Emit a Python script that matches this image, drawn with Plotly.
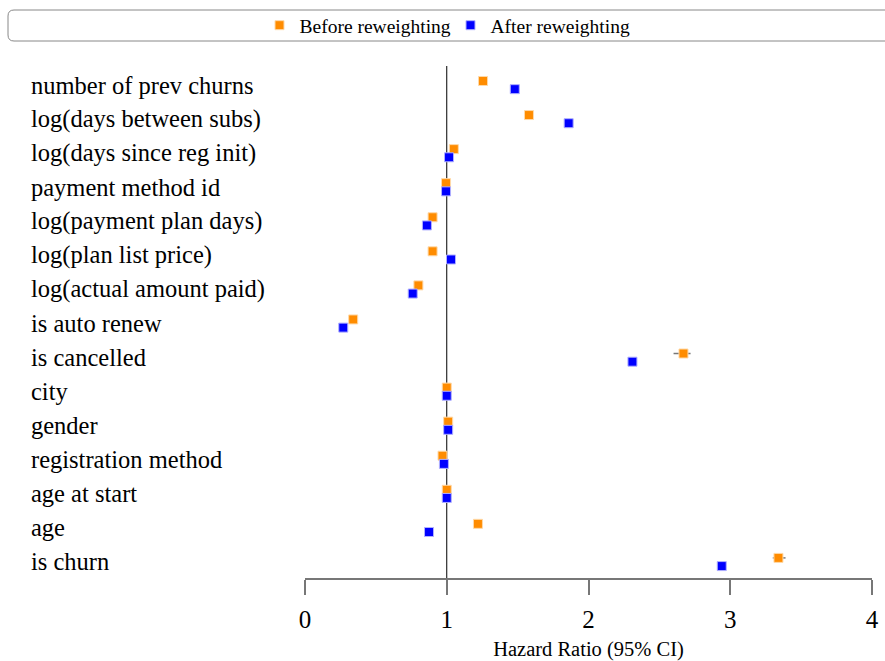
import plotly.graph_objects as go

variables = ["number of prev churns", "log(days between subs)", "log(days since reg init)",
             "payment method id", "log(payment plan days)", "log(plan list price)",
             "log(actual amount paid)", "is auto renew", "is cancelled", "city", "gender",
             "registration method", "age at start", "age", "is churn"]

hr_before = [1.256, 1.58, 1.05, 0.995, 0.90, 0.90, 0.80, 0.34, 2.67, 1.00, 1.01, 0.97, 1.00, 1.22, 3.34]
ci_before_lo = [1.25, 1.575, 1.045, 0.99, 0.895, 0.895, 0.795, 0.335, 2.60, 0.995, 1.005, 0.965, 0.995, 1.215, 3.30]
ci_before_hi = [1.262, 1.585, 1.055, 1.0, 0.905, 0.905, 0.805, 0.345, 2.72, 1.005, 1.015, 0.975, 1.005, 1.225, 3.39]

hr_after = [1.48, 1.86, 1.016, 0.995, 0.86, 1.03, 0.76, 0.27, 2.31, 1.00, 1.01, 0.98, 1.00, 0.875, 2.94]
ci_after_lo = [1.475, 1.855, 1.011, 0.99, 0.855, 1.025, 0.755, 0.265, 2.28, 0.995, 1.005, 0.975, 0.995, 0.87, 2.92]
ci_after_hi = [1.485, 1.865, 1.021, 1.0, 0.865, 1.035, 0.765, 0.275, 2.34, 1.005, 1.015, 0.985, 1.005, 0.88, 2.96]

x_ticks = [0, 1, 2, 3, 4]

FONT = "Liberation Serif"
idx = list(range(len(variables)))

fig = go.Figure()
fig.add_trace(go.Scatter(
    x=hr_before, y=[i - 0.12 for i in idx], mode="markers", name="Before reweighting",
    marker=dict(symbol="square", size=9, color="#FF8C00", line=dict(color="#FFD9A8", width=1)),
    error_x=dict(type="data", symmetric=False,
                 array=[h - v for v, h in zip(hr_before, ci_before_hi)],
                 arrayminus=[v - l for v, l in zip(hr_before, ci_before_lo)],
                 color="#777777", thickness=1.5, width=0),
))
fig.add_trace(go.Scatter(
    x=hr_after, y=[i + 0.12 for i in idx], mode="markers", name="After reweighting",
    marker=dict(symbol="square", size=9, color="#0000FF", line=dict(color="#B0B0FF", width=1)),
    error_x=dict(type="data", symmetric=False,
                 array=[h - v for v, h in zip(hr_after, ci_after_hi)],
                 arrayminus=[v - l for v, l in zip(hr_after, ci_after_lo)],
                 color="#555555", thickness=1.5, width=0),
))

# reference line at HR = 1
fig.add_shape(type="line", xref="x", yref="paper", x0=1, x1=1, y0=0, y1=1,
              line=dict(color="black", width=1), layer="below")

# variable labels
for i, v in enumerate(variables):
    fig.add_annotation(text=v, xref="paper", yref="y", x=-0.4868, y=i, xanchor="left",
                       yanchor="middle", showarrow=False,
                       font=dict(family=FONT, size=24.5, color="black"))

# rounded legend box
W, H = 567.0, 512.0
def px(xp):
    return (xp - 305) / W
def py(yp):
    return 1 + (66 - yp) / H
L, R, T, B, r = 8, 900, 10, 41, 6
path = (f"M {px(L + r)},{py(T)} L {px(R - r)},{py(T)} Q {px(R)},{py(T)} {px(R)},{py(T + r)} "
        f"L {px(R)},{py(B - r)} Q {px(R)},{py(B)} {px(R - r)},{py(B)} "
        f"L {px(L + r)},{py(B)} Q {px(L)},{py(B)} {px(L)},{py(B - r)} "
        f"L {px(L)},{py(T + r)} Q {px(L)},{py(T)} {px(L + r)},{py(T)} Z")
fig.add_shape(type="path", xref="paper", yref="paper", path=path,
              line=dict(color="#888888", width=1), fillcolor="rgba(0,0,0,0)")

fig.update_layout(
    width=885, height=661,
    margin=dict(l=305, r=13, t=66, b=83, autoexpand=False),
    paper_bgcolor="white", plot_bgcolor="white",
    font=dict(family=FONT, color="black"),
    showlegend=True,
    legend=dict(orientation="h", x=px(450.5), y=py(25.5), xanchor="center", yanchor="middle",
                font=dict(family=FONT, size=19.5), bgcolor="rgba(0,0,0,0)", borderwidth=0,
                itemwidth=30, entrywidth=146, entrywidthmode="pixels"),
    xaxis=dict(range=[0, 4], tickvals=x_ticks, ticktext=[str(t) for t in x_ticks],
               showgrid=False, zeroline=False, showline=True, linecolor="#777777", linewidth=1.5,
               ticks="outside", ticklen=15, tickwidth=1.5, tickcolor="#777777",
               ticklabelstandoff=3,
               tickfont=dict(family=FONT, size=25, color="black"),
               title=dict(text="Hazard Ratio (95% CI)", font=dict(family=FONT, size=20.5), standoff=11)),
    yaxis=dict(range=[14.47, -0.56], showticklabels=False, showgrid=False, zeroline=False,
               showline=False, ticks=""),
)

fig.write_html("out.html", config={"displayModeBar": False},
               post_script="document.body.style.margin='0px';")
